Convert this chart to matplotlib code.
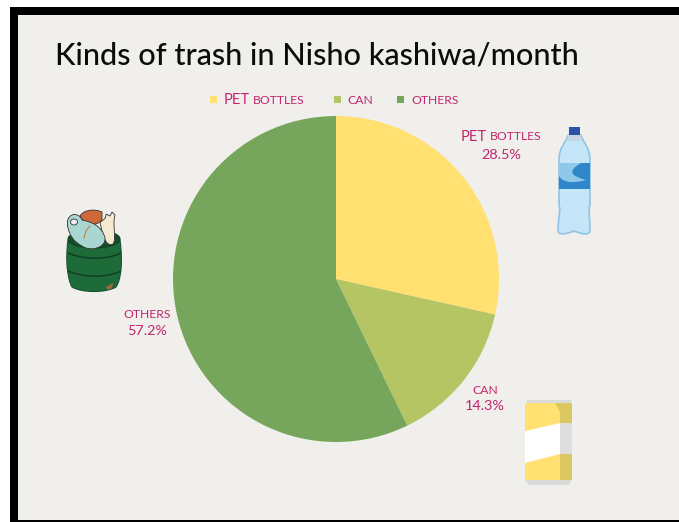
import matplotlib
matplotlib.use("Agg")
import matplotlib.pyplot as plt
from matplotlib.patches import Rectangle, Polygon, PathPatch, Ellipse
from matplotlib.path import Path

W, H = 679, 522

title = "Kinds of trash in Nisho kashiwa/month"
categories = ["PET BOTTLES", "CAN", "OTHERS"]
values = [28.5, 14.3, 57.2]
colors = ["#FFE071", "#B5C563", "#76A65B"]
PINK = "#C2246E"
PAPER = "#F0EFEB"

plt.rcParams["font.family"] = ["Lato", "DejaVu Sans"]

fig = plt.figure(figsize=(W / 100, H / 100), dpi=100, facecolor="white")

# Full-figure layer in pixel units for the frame, captions and drawings
bg = fig.add_axes([0, 0, 1, 1])
bg.set_xlim(0, W)
bg.set_ylim(H, 0)
bg.axis("off")

bg.add_patch(Rectangle((10, 7), W - 10, H - 7, fc="black", ec="none"))
bg.add_patch(Rectangle((18, 15), W - 18, 505, fc=PAPER, ec="none"))

bg.text(55, 55, title, fontsize=22.1, color="#0c0c0c", va="center", ha="left",
        fontweight="medium")

# Pie
pie_ax = fig.add_axes([173 / W, 1 - 442 / H, 326 / W, 326 / H])
pie_ax.pie(values, colors=colors, startangle=90, counterclock=False, radius=1,
           wedgeprops={"linewidth": 0})
pie_ax.set_xlim(-1, 1)
pie_ax.set_ylim(-1, 1)
pie_ax.patch.set_alpha(0)


def caps_label(x, y, name, big=10.6, small=8.7, anchor="center"):
    """Write a name with a larger leading word and small-cap remainder."""
    head, _, tail = name.partition(" ")
    r = fig.canvas.get_renderer()
    if tail:
        t1 = bg.text(0, y, head, fontsize=big, color=PINK, va="center")
        t2 = bg.text(0, y, tail, fontsize=small, color=PINK, va="center")
        w1 = t1.get_window_extent(r).width
        w2 = t2.get_window_extent(r).width
        x0 = x - (w1 + 3 + w2) / 2 if anchor == "center" else x
        t1.set_x(x0)
        t2.set_x(x0 + w1 + 3)
    else:
        bg.text(x, y, head, fontsize=small, color=PINK, va="center",
                ha="center" if anchor == "center" else "left")


def outline(start, *segments):
    """Build a path from a start point and segments of one (line) or three (curve) points."""
    verts, codes = [start], [Path.MOVETO]
    for seg in segments:
        verts.extend(seg)
        codes.extend([Path.LINETO] if len(seg) == 1 else [Path.CURVE4] * 3)
    return Path(verts, codes)


# Legend row
legend_pos = [(213, 224), (337, 347), (400, 411)]
for (mx, tx), name, col in zip(legend_pos, categories, colors):
    bg.add_patch(Rectangle((mx - 3.5, 96), 7, 7, fc=col, ec="none"))
    caps_label(tx, 100, name, anchor="left")

# Slice captions
caption_pos = [(501, 137, 155), (485, 391, 406), (147, 315, 331)]
for (x, y1, y2), name, v in zip(caption_pos, categories, values):
    caps_label(x, y1, name)
    bg.text(x, y2, f"{v:.1f}%", fontsize=10.4, color=PINK, ha="center", va="center")

# Water bottle
bottle_path = outline(
    (568, 135),
    [(566, 143), (559, 147), (559, 160)],
    [(559, 205)],
    [(561, 210), (558, 218), (558, 230)],
    [(558, 236), (566, 234), (574, 231)],
    [(582, 234), (590, 236), (590, 230)],
    [(590, 218), (588, 210), (590, 205)],
    [(590, 160)],
    [(590, 147), (583, 143), (581, 135)],
    [(568, 135)],
)
bg.add_patch(PathPatch(bottle_path, fc="#C4E6F8", ec="#8FC4E6", lw=1.2))
bg.add_patch(Polygon([(568, 135), (581, 135), (582, 141), (567, 141)], fc="#C9D6E0", ec="none"))
bg.add_patch(Rectangle((569, 127), 11, 8, fc="#2A52A8", ec="none"))
bg.add_patch(Rectangle((559, 163), 31, 26, fc="#2F86C8", ec="none"))
swoosh = outline((559, 163), [(581, 163)], [(566, 172), (572, 176), (586, 180)],
                 [(572, 184), (562, 182), (559, 176)], [(559, 163)])
bg.add_patch(PathPatch(swoosh, fc="#8FC9EA", ec="none"))

# Drink can
bg.add_patch(Rectangle((527, 400), 44, 4, fc="#DADADA", ec="none"))
bg.add_patch(Rectangle((525, 403), 47, 77, fc="#FFE071", ec="none"))
bg.add_patch(Polygon([(555, 403), (572, 403), (572, 480), (560, 480), (560, 412)], fc="#DCC860", ec="none"))
bg.add_patch(Polygon([(525, 431), (560, 423), (560, 454), (525, 463)], fc="white", ec="none"))
bg.add_patch(Polygon([(560, 423), (572, 423), (572, 454), (560, 454)], fc="#DEDEDE", ec="none"))
bg.add_patch(Polygon([(525, 480), (572, 480), (569, 485), (529, 485)], fc="#DADADA", ec="none"))

# Overflowing trash drum
drum = outline(
    (68, 240),
    [(65, 262), (68, 280), (72, 287)],
    [(82, 293), (106, 293), (116, 287)],
    [(121, 280), (123, 262), (120, 240)],
    [(68, 240)],
)
bg.add_patch(PathPatch(drum, fc="#1E6B3A", ec="#16502B", lw=0.8))
for yb in (253, 271):
    band = outline((68, yb), [(84, yb + 7), (106, yb + 7), (121, yb)])
    bg.add_patch(PathPatch(band, fc="none", ec="#123F22", lw=1.1))
bg.add_patch(Ellipse((94, 239), 52, 18, fc="#16502B", ec="#123F22", lw=0.8))

cream = outline(
    (100, 222),
    [(104, 220), (106, 218), (106, 214)],
    [(110, 216)], [(112, 212)], [(115, 215)],
    [(112, 226), (117, 238), (113, 244)],
    [(108, 246), (104, 243), (100, 222)],
)
bg.add_patch(PathPatch(cream, fc="#F5E9D2", ec="#333333", lw=0.6))
orange = outline(
    (80, 216),
    [(84, 209), (96, 209), (102, 212)],
    [(102, 220)],
    [(97, 226), (86, 227), (80, 216)],
)
bg.add_patch(PathPatch(orange, fc="#D0693A", ec="#333333", lw=0.6))
bag = outline(
    (68, 228),
    [(64, 214), (78, 210), (82, 220)],
    [(92, 222), (102, 226), (105, 238)],
    [(106, 248), (90, 252), (82, 246)],
    [(74, 242), (70, 236), (68, 228)],
)
bg.add_patch(PathPatch(bag, fc="#A9D6D0", ec="#333333", lw=0.6))
bg.add_patch(Ellipse((74, 222), 7, 6, fc=PAPER, ec="#333333", lw=0.6))
bg.plot([84, 86, 90], [238, 231, 226], color="#C8722F", lw=0.7)
bg.add_patch(Polygon([(106, 287), (113, 283), (112, 288), (108, 290)], fc="#A06A3A", ec="none"))

fig.savefig("out.png", dpi=100)
